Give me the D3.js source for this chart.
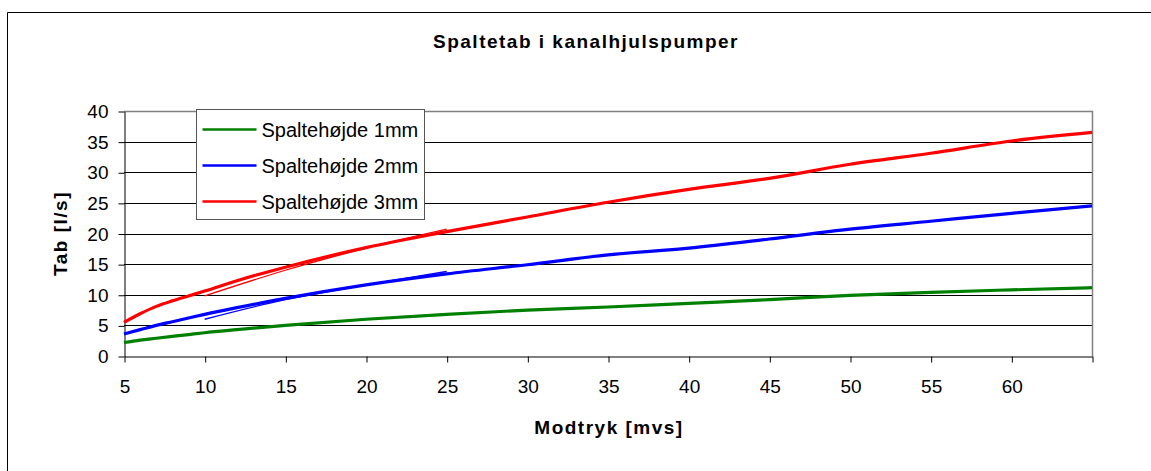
<!DOCTYPE html>
<html>
<head>
<meta charset="utf-8">
<script src="https://cdn.jsdelivr.net/npm/d3@7"></script>
<style>
  body { margin: 0; background: #fff; overflow: hidden; }
  text { font-family: "Liberation Sans", Arial, sans-serif; fill: #000; }
  .lab { font-size: 19px; font-weight: bold; letter-spacing: 1.5px; }
</style>
</head>
<body>
<div id="chart"></div>
<script>
// Spaltetab i kanalhjulspumper
var modtryk = [5, 6, 7, 8, 9, 10, 12, 15, 20, 25, 30, 35, 40, 45, 50, 55, 60, 65];
var tab1mm  = [2.2, 2.6, 2.9, 3.2, 3.5, 3.8, 4.3, 5.0, 6.0, 6.8, 7.5, 8.0, 8.6, 9.2, 9.9, 10.4, 10.8, 11.15];
var tab2mm  = [3.6, 4.3, 5.0, 5.6, 6.2, 6.8, 7.9, 9.4, 11.6, 13.4, 14.9, 16.5, 17.6, 19.1, 20.7, 22.0, 23.3, 24.5];
var tab3mm  = [5.5, 6.9, 8.1, 9.0, 9.8, 10.6, 12.3, 14.5, 17.7, 20.3, 22.7, 25.1, 27.2, 29.0, 31.3, 33.1, 35.1, 36.5];

// short thin segments lying on top of the 2mm / 3mm curves
var extraX   = [10, 15, 20, 25];
var extra2mm = [6.0, 9.2, 11.6, 13.8];
var extra3mm = [9.8, 14.0, 17.6, 20.7];

var seriesNames = ["Spaltehøjde 1mm", "Spaltehøjde 2mm", "Spaltehøjde 3mm"];
var seriesColors = ["#008000", "#0000ff", "#ff0000"];
var xTicks = [5, 10, 15, 20, 25, 30, 35, 40, 45, 50, 55, 60, 65];
var yTicks = [0, 5, 10, 15, 20, 25, 30, 35, 40];

const W = 1151, H = 471;
const pLeft = 124, pRight = 1092, pTop = 111, pBottom = 356;

var svg = d3.select("#chart").append("svg")
  .attr("width", W)
  .attr("height", H)
  .style("display", "block");

// outer chart frame (only top/left edges fall inside the window)
svg.append("path")
  .attr("d", "M7.5," + H + "V12.5H" + W)
  .style("fill", "none")
  .style("stroke", "#000")
  .style("stroke-width", 1);

var x = d3.scaleLinear().domain([5, 65]).range([pLeft, pRight]);
var y = d3.scaleLinear().domain([0, 40]).range([pBottom, pTop]);

// gridlines
svg.append("g")
  .selectAll("line")
  .data(yTicks.filter(function(d) { return d > 0 && d < 40; }))
  .enter().append("line")
    .attr("x1", pLeft).attr("x2", pRight)
    .attr("y1", function(d) { return Math.round(y(d)) + 0.5; })
    .attr("y2", function(d) { return Math.round(y(d)) + 0.5; })
    .style("stroke", "#000")
    .style("stroke-width", 1);

// plot area top / right border
svg.append("path")
  .attr("d", "M" + pLeft + "," + (pTop + 0.5) + "H" + (pRight + 0.5) + "V" + pBottom)
  .style("fill", "none")
  .style("stroke", "#808080")
  .style("stroke-width", 1.5);

var yAxis = d3.axisLeft(y).tickValues(yTicks).tickSize(6).tickPadding(10).tickSizeOuter(0);
var xAxis = d3.axisBottom(x).tickValues(xTicks).tickSize(6).tickPadding(17).tickSizeOuter(0)
  .tickFormat(function(d) { return d == 65 ? "" : d; });

svg.append("g")
  .attr("transform", "translate(" + (pLeft + 0.5) + ",0.5)")
  .call(yAxis)
  .call(function(g) { g.selectAll("line,path").style("stroke", "#000"); });

svg.append("g")
  .attr("transform", "translate(0.5," + (pBottom + 0.5) + ")")
  .call(xAxis)
  .call(function(g) { g.selectAll("line,path").style("stroke", "#000"); });

svg.selectAll(".tick text")
  .attr("font-family", null).attr("font-size", null)
  .style("font-family", "'Liberation Sans', Arial, sans-serif")
  .style("font-size", "19px")
  .style("fill", "#000");

// data lines
var allSeries = [tab1mm, tab2mm, tab3mm];
var line = d3.line()
  .x(function(d, i) { return x(modtryk[i]); })
  .y(function(d) { return y(d); })
  .curve(d3.curveMonotoneX);

svg.append("g")
  .selectAll("path")
  .data(allSeries)
  .enter().append("path")
    .attr("d", line)
    .style("fill", "none")
    .style("stroke", function(d, i) { return seriesColors[i]; })
    .style("stroke-width", 3.2)
    .style("stroke-linejoin", "round");

var extraLine = d3.line()
  .x(function(d, i) { return x(extraX[i]); })
  .y(function(d) { return y(d); })
  .curve(d3.curveMonotoneX);

svg.append("g")
  .selectAll("path")
  .data([extra2mm, extra3mm])
  .enter().append("path")
    .attr("d", extraLine)
    .style("fill", "none")
    .style("stroke", function(d, i) { return seriesColors[i + 1]; })
    .style("stroke-width", 1.3);

// legend
var legend = svg.append("g").attr("transform", "translate(196.5,109.5)");
legend.append("rect")
  .attr("width", 228).attr("height", 110)
  .style("fill", "#fff")
  .style("stroke", "#555")
  .style("stroke-width", 1);

var item = legend.selectAll(".item")
  .data(seriesNames)
  .enter().append("g")
    .attr("transform", function(d, i) { return "translate(0," + (20 + i * 36) + ")"; });

item.append("line")
  .attr("x1", 6).attr("x2", 60)
  .attr("y1", 0).attr("y2", 0)
  .style("stroke", function(d, i) { return seriesColors[i]; })
  .style("stroke-width", 2.5);

item.append("text")
  .attr("x", 65).attr("y", 7)
  .style("font-size", "20px")
  .text(function(d) { return d; });

// titles
svg.append("text")
  .attr("class", "lab")
  .attr("x", 586).attr("y", 48)
  .attr("text-anchor", "middle")
  .text("Spaltetab i kanalhjulspumper");

svg.append("text")
  .attr("class", "lab")
  .attr("x", 609).attr("y", 434)
  .attr("text-anchor", "middle")
  .text("Modtryk [mvs]");

svg.append("text")
  .attr("class", "lab")
  .attr("transform", "translate(67," + ((pTop + pBottom) / 2) + ") rotate(-90)")
  .attr("text-anchor", "middle")
  .text("Tab [l/s]");
</script>
</body>
</html>
